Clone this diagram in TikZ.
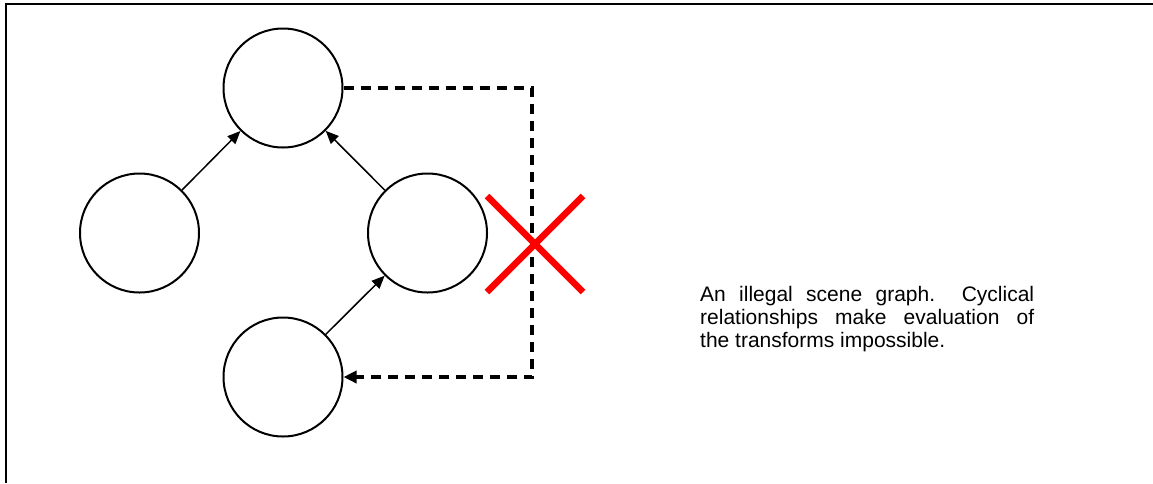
\documentclass[tikz,border=0pt]{standalone}
\usepackage{fontspec}
\setmainfont{Liberation Sans}
\usetikzlibrary{arrows.meta}
\begin{document}
\begin{tikzpicture}[x=1pt,y=-1pt,
  gnode/.style={draw,circle,minimum size=119pt,inner sep=0pt,line width=2pt},
  edge/.style={line width=1.5pt,-{Triangle[length=13pt,width=11pt]}},
  cyc/.style={line width=3.6pt,dash pattern=on 10pt off 7pt,-{Triangle[length=13pt,width=12pt]}},
  cross/.style={line width=6.5pt,red},
  frame/.style={line width=2.2pt}]
\useasboundingbox (0,0) rectangle (1153,483);
\draw[frame] (6,483) -- (6,4) -- (1153,4);
\node[gnode] (T) at (283,88) {};
\node[gnode] (L) at (139.5,233) {};
\node[gnode] (M) at (427.5,233) {};
\node[gnode] (B) at (283,377) {};
\draw[edge] (L) -- (T);
\draw[edge] (M) -- (T);
\draw[edge] (B) -- (M);
\coordinate (cx) at (532,0);
\draw[cyc] (T.east) -- (T.east -| cx) |- (B.east);
\coordinate (x1) at (487,196);
\coordinate (x2) at (583,292);
\coordinate (x3) at (487,292);
\coordinate (x4) at (583,196);
\draw[cross] (x1) -- (x2);
\draw[cross] (x3) -- (x4);
\node[anchor=north west,align=left,inner sep=0pt,font=\fontsize{21}{23}\selectfont] (cap) at (700,286)
 {\makebox[334pt][s]{An illegal scene graph.\ \ Cyclical}\\
  \makebox[334pt][s]{relationships make evaluation of}\\
  the transforms impossible.};
\end{tikzpicture}
\end{document}
